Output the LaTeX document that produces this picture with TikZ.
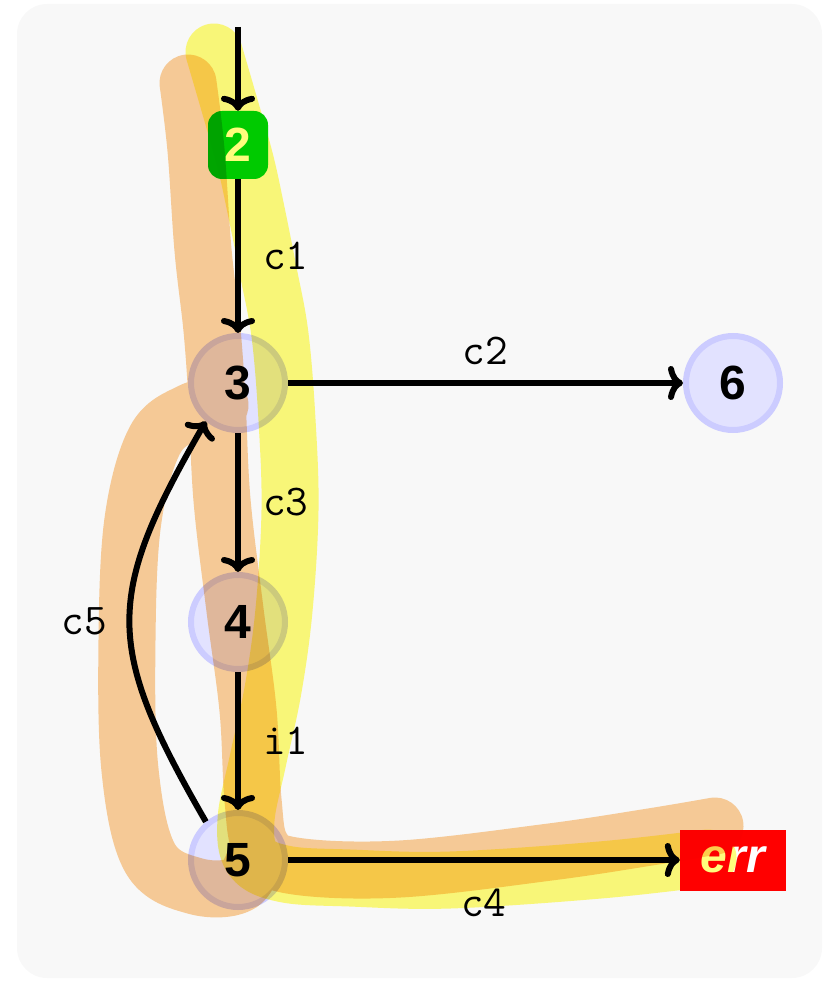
\documentclass[tikz,border=0pt]{standalone}
\usepackage{fontspec}
\newfontfamily\nodefont{Liberation Sans}
\usetikzlibrary{arrows.meta}
\definecolor{bgc}{RGB}{248,248,248}
\definecolor{nfill}{RGB}{226,226,255}
\definecolor{nbord}{RGB}{204,204,255}
\definecolor{gfill}{RGB}{0,204,0}
\definecolor{hly}{RGB}{255,253,124}
\definecolor{hlo}{RGB}{252,207,155}
\tikzset{
  st/.style={circle, minimum size=94pt, inner sep=0pt, fill=nfill, draw=nbord, line width=6pt,
    font=\nodefont\fontsize{48}{48}\selectfont\bfseries},
  startnode/.style={rectangle, rounded corners=14pt, minimum width=60pt, minimum height=68pt,
    inner sep=0pt, fill=gfill, text=white, font=\nodefont\fontsize{48}{48}\selectfont\bfseries},
  errnode/.style={rectangle, minimum width=106pt, minimum height=61pt, inner sep=0pt,
    fill=red, text=white, font=\nodefont\fontsize{48}{48}\selectfont\bfseries\itshape},
  edge/.style={draw=black, line width=6pt, -{To[length=15pt,width=34pt]}},
  lab/.style={font=\ttfamily\fontsize{44}{44}\selectfont, inner sep=0pt, text=black},
  hl/.style={line width=57pt, line cap=round, line join=round},
}
\begin{document}
\begin{tikzpicture}[x=1pt,y=1pt]
\useasboundingbox (0,0) rectangle (829,-981);
\fill[bgc, rounded corners=30pt] (17,-4) rectangle (822,-978);

\coordinate (in) at (238,-27);
\node[startnode] (n2) at (238,-145) {2};
\node[st] (n3) at (238,-383) {3};
\node[st] (n6) at (733,-383) {6};
\node[st] (n4) at (238,-622) {4};
\node[st] (n5) at (238,-860) {5};
\node[errnode] (err) at (733,-860) {err};

\draw[edge] (in) -- (n2);
\draw[edge] (n2) -- node[lab, right=22pt] {c1} (n3);
\draw[edge] (n3) -- node[lab, above=15pt] {c2} (n6);
\draw[edge] (n3) -- node[lab, right=22pt] {c3} (n4);
\draw[edge] (n4) -- node[lab, right=22pt] {i1} (n5);
\draw[edge] (n5) -- node[lab, below=26pt] {c4} (err);
\draw[edge] (n5.130) to[out=120,in=240,looseness=1.3] node[lab, left=20pt] {c5} (n3.230);

% highlighted paths
\begin{scope}[blend mode=multiply]
\draw[hl, hly] plot[smooth, tension=0.6] coordinates {(214,-52) (228,-100) (245,-160) (256,-210) (268,-270) (280,-335) (287,-420) (290,-510) (284,-610) (273,-690) (258,-760) (246,-820) (252,-858) (285,-874) (350,-878) (450,-880) (600,-870) (708,-858)};
\end{scope}
\begin{scope}[blend mode=multiply]
\draw[hl, hlo] plot[smooth, tension=0.6] coordinates {(188,-83) (196,-150) (203,-250) (212,-330) (217,-400) (222,-500) (235,-610) (248,-710) (253,-800) (262,-848) (295,-866) (400,-869) (550,-852) (650,-837) (715,-826)}
  plot[smooth, tension=0.6] coordinates {(220,-405) (190,-412) (155,-440) (133,-520) (127,-640) (130,-770) (150,-858) (195,-886) (240,-884) (258,-850)};
\end{scope}
\end{tikzpicture}
\end{document}
